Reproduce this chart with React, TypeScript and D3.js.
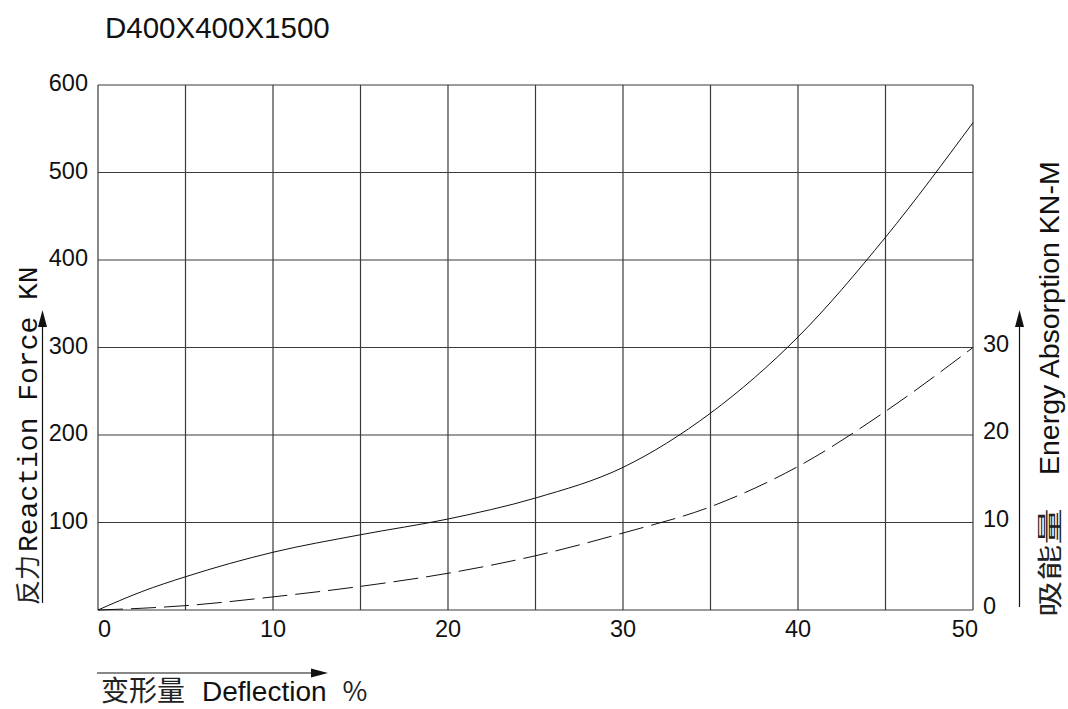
import React from "react";
import * as d3 from "d3";

const deflection = [0, 2.5, 5, 10, 15, 20, 25, 30, 35, 40, 45, 50];
const reactionForce = [0, 21, 38, 66, 86, 104, 128, 163, 225, 312, 426, 557];
const energyAbsorption = [0, 0.2, 0.5, 1.5, 2.7, 4.2, 6.2, 8.8, 11.8, 16.4, 22.7, 30];

const xTicks = [0, 10, 20, 30, 40, 50];
const xGrid = [0, 5, 10, 15, 20, 25, 30, 35, 40, 45, 50];
const forceTicks = [100, 200, 300, 400, 500, 600];
const forceGrid = [0, 100, 200, 300, 400, 500, 600];
const energyTicks = [0, 10, 20, 30];

const title = "D400X400X1500";

export default function App() {
  const W = 1068, H = 709;
  const L = 98, R = 973, T = 85, B = 610;
  const x = d3.scaleLinear().domain([0, 50]).range([L, R]);
  const yF = d3.scaleLinear().domain([0, 600]).range([B, T]);
  const yE = d3.scaleLinear().domain([0, 60]).range([B, T]);

  const forceLine = d3
    .line<number>()
    .x((_, i) => x(deflection[i]))
    .y((d) => yF(d))
    .curve(d3.curveMonotoneX);
  const energyLine = d3
    .line<number>()
    .x((_, i) => x(deflection[i]))
    .y((d) => yE(d))
    .curve(d3.curveMonotoneX);

  const sans = "'Liberation Sans', Arial, sans-serif";
  const cjk = "'Noto Sans CJK SC', sans-serif";
  const mono = "'Liberation Mono', 'Courier New', monospace";
  const grid = "#3a3a3a";

  return (
    <svg width={W} height={H} style={{ position: "absolute", left: 0, top: 0, background: "#fff" }}>
      <rect x={0} y={0} width={W} height={H} fill="#fff" />
      <text x={105} y={38} fontFamily={sans} fontSize={29.5} fill="#111">
        {title}
      </text>

      {/* grid */}
      {xGrid.map((v) => (
        <line key={"gx" + v} x1={x(v)} x2={x(v)} y1={T} y2={B} stroke={grid} strokeWidth={1.2} />
      ))}
      {forceGrid.map((v) => (
        <line key={"gy" + v} x1={L} x2={R} y1={yF(v)} y2={yF(v)} stroke={grid} strokeWidth={1.2} />
      ))}

      {/* curves */}
      <path d={forceLine(reactionForce) || ""} fill="none" stroke="#111" strokeWidth={1} />
      <path
        d={energyLine(energyAbsorption) || ""}
        fill="none"
        stroke="#111"
        strokeWidth={1}
        strokeDasharray="25,8"
      />

      {/* left ticks */}
      {forceTicks.map((v) => (
        <text
          key={"lt" + v}
          x={88}
          y={yF(v)}
          textAnchor="end"
          dominantBaseline="middle"
          fontFamily={sans}
          fontSize={23.5}
          fill="#111"
        >
          {v}
        </text>
      ))}

      {/* bottom ticks */}
      {xTicks.map((v, i) => (
        <text
          key={"bt" + v}
          x={i === 0 ? x(v) : i === xTicks.length - 1 ? x(v) + 5 : x(v)}
          y={637}
          textAnchor={i === 0 ? "start" : i === xTicks.length - 1 ? "end" : "middle"}
          fontFamily={sans}
          fontSize={23.5}
          fill="#111"
        >
          {v}
        </text>
      ))}

      {/* right ticks */}
      {energyTicks.map((v) => (
        <text
          key={"rt" + v}
          x={983}
          y={yE(v) - 2}
          textAnchor="start"
          dominantBaseline="middle"
          fontFamily={sans}
          fontSize={23.5}
          fill="#111"
        >
          {v}
        </text>
      ))}

      {/* left axis title with arrow */}
      <line x1={42.5} x2={42.5} y1={603} y2={325} stroke="#111" strokeWidth={1.2} />
      <path d="M42.5,310 L38,327 L47,327 Z" fill="#111" />
      <g transform="translate(37,605) rotate(-90)">
        <text x={0} y={0} fill="#111">
          <tspan fontFamily={cjk} fontSize={25} fill="#222">反力</tspan>
          <tspan fontFamily={mono} fontSize={28} dx={3}>
            Reaction Force KN
          </tspan>
        </text>
      </g>

      {/* right axis title with arrow */}
      <line x1={1019.5} x2={1019.5} y1={607} y2={325} stroke="#111" strokeWidth={1.2} />
      <path d="M1019.5,310 L1015,327 L1024,327 Z" fill="#111" />
      <g transform="translate(1059,617) rotate(-90)">
        <text x={0} y={0} transform="scale(1.45,1)" fontFamily={cjk} fontSize={25} fill="#222">
          吸能量
        </text>
        <text x={142} y={0} fontFamily={sans} fontSize={28.5} fill="#111">
          Energy Absorption KN-M
        </text>
      </g>

      {/* bottom axis title with arrow */}
      <line x1={97} x2={314} y1={673} y2={673} stroke="#111" strokeWidth={1.2} />
      <path d="M328,673 L311,668.5 L311,677.5 Z" fill="#111" />
      <text x={101} y={701} fill="#111">
        <tspan fontFamily={cjk} fontSize={28} fill="#222">变形量</tspan>
        <tspan fontFamily={sans} fontSize={28} dx={17}>Deflection</tspan>
        <tspan fontFamily={cjk} fontSize={27} dx={16} fill="#222">%</tspan>
      </text>
    </svg>
  );
}
